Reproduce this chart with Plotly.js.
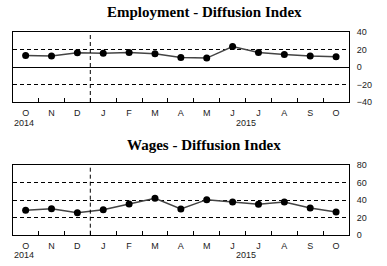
<!DOCTYPE html>
<html>
<head>
<meta charset="utf-8">
<script src="https://cdn.plot.ly/plotly-3.0.1.min.js"></script>
<style>html,body{margin:0;padding:0;background:#fff}#chart{width:387px;height:266px}</style>
</head>
<body>
<div id="chart"></div>
<script>
var months = ["O","N","D","J","F","M","A","M","J","J","A","S","O"];
var years = ["2014","2015"];
var employment = [13.2,12.5,16.2,15.8,16.6,15.1,10.9,10.2,23.4,16.6,14.3,12.5,11.7];
var wages = [28.1,30.0,25.4,28.8,35.4,41.9,29.6,40.4,37.7,35.0,37.7,30.8,26.2];
var empTicks = [-40,-20,0,20,40];
var wageTicks = [0,20,40,60,80];
var titles = ["Employment - Diffusion Index","Wages - Diffusion Index"];

var idx = months.map(function(m,i){return i;});
var bounds = idx.slice(0,-1).map(function(i){return i+0.5;});

var tickFont = {family:"Liberation Sans, Arial, sans-serif", size:9, color:"#222"};
var lineStyle = {color:"#444", width:1.5};
var markerStyle = {color:"#000", size:7};

var traces = [
  {x:idx, y:employment, xaxis:"x", yaxis:"y", mode:"lines+markers", line:lineStyle, marker:markerStyle, hoverinfo:"skip"},
  {x:idx, y:wages, xaxis:"x2", yaxis:"y2", mode:"lines+markers", line:lineStyle, marker:markerStyle, hoverinfo:"skip"}
];

function xax(anchor){
  return {
    anchor:anchor, domain:[12.7/387, 349/387], range:[-0.5,12.5],
    tickmode:"array", tickvals:idx, ticktext:months, ticks:"",
    showgrid:false, zeroline:false, showline:true, mirror:true,
    linecolor:"#000", linewidth:1, tickfont:tickFont, ticklabelstandoff:2,
    minor:{tickmode:"array", tickvals:bounds, ticks:"inside", ticklen:4, tickcolor:"#000", tickwidth:1, showgrid:false},
    fixedrange:true
  };
}
function yax(anchor, dom, ticks, zero){
  return {
    anchor:anchor, domain:dom, side:"right", range:[ticks[0], ticks[ticks.length-1]],
    tickmode:"array", tickvals:ticks, ticks:"", showline:true, mirror:true,
    linecolor:"#000", linewidth:1, showgrid:true, gridcolor:"#000", gridwidth:1, griddash:"4px,3px",
    zeroline:zero, zerolinecolor:"#000", zerolinewidth:1,
    tickfont:tickFont, ticklabelstandoff:5, fixedrange:true
  };
}

var titleFont = {family:"Liberation Serif, Times New Roman, serif", size:15, color:"#000", weight:"bold"};

var layout = {
  width:387, height:266, margin:{l:0,r:0,t:0,b:0},
  paper_bgcolor:"#fff", plot_bgcolor:"#fff", showlegend:false,
  xaxis: xax("y"),
  yaxis: yax("x", [1-102/266, 1-32/266], empTicks, true),
  xaxis2: xax("y2"),
  yaxis2: yax("x2", [1-234.7/266, 1-165.3/266], wageTicks, false),
  shapes:[
    {type:"line", xref:"x", yref:"y domain", x0:2.5, x1:2.5, y0:0, y1:1, line:{color:"#000", width:1, dash:"4px,3px"}},
    {type:"line", xref:"x2", yref:"y2 domain", x0:2.5, x1:2.5, y0:0, y1:1, line:{color:"#000", width:1, dash:"4px,3px"}}
  ],
  annotations:[
    {text:titles[0], xref:"paper", yref:"paper", x:204/387, y:1-12/266, xanchor:"center", yanchor:"middle", showarrow:false, font:titleFont},
    {text:titles[1], xref:"paper", yref:"paper", x:204/387, y:1-145/266, xanchor:"center", yanchor:"middle", showarrow:false, font:titleFont},
    {text:years[0], xref:"paper", yref:"paper", x:12/387, y:1-122.5/266, xanchor:"left", yanchor:"middle", showarrow:false, font:tickFont},
    {text:years[1], xref:"paper", yref:"paper", x:234/387, y:1-122.5/266, xanchor:"left", yanchor:"middle", showarrow:false, font:tickFont},
    {text:years[0], xref:"paper", yref:"paper", x:12/387, y:1-255/266, xanchor:"left", yanchor:"middle", showarrow:false, font:tickFont},
    {text:years[1], xref:"paper", yref:"paper", x:234/387, y:1-255/266, xanchor:"left", yanchor:"middle", showarrow:false, font:tickFont}
  ]
};

Plotly.newPlot("chart", traces, layout, {displayModeBar:false, staticPlot:true});
</script>
</body>
</html>
